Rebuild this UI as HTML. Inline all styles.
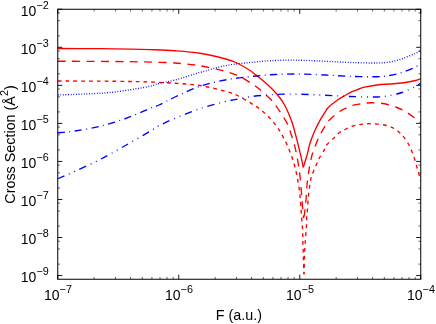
<!DOCTYPE html>
<html><head><meta charset="utf-8"><title>Cross Section vs F</title>
<style>
html,body{margin:0;padding:0;background:#fff;}
svg{display:block;will-change:transform;}
text{font-family:"Liberation Sans",sans-serif;fill:#000;}
</style></head>
<body>
<svg width="436" height="324" viewBox="0 0 436 324">
<rect x="0" y="0" width="436" height="324" fill="#fff"/>
<defs><clipPath id="c"><rect x="57.75" y="9.25" width="363.00" height="270.00"/></clipPath></defs>
<g clip-path="url(#c)">
<path d="M57.75,48.50 C64.79,48.53 87.96,48.60 100.00,48.70 C112.04,48.80 121.67,48.95 130.00,49.10 C138.33,49.25 142.50,49.33 150.00,49.60 C157.50,49.88 166.67,50.14 175.00,50.75 C183.33,51.36 191.67,51.92 200.00,53.25 C208.33,54.58 218.75,57.08 225.00,58.75 C231.25,60.42 233.33,61.29 237.50,63.25 C241.67,65.21 246.42,68.12 250.00,70.50 C253.58,72.88 256.92,75.87 259.00,77.50 C261.08,79.13 261.00,79.05 262.50,80.30 C264.00,81.55 265.92,83.05 268.00,85.00 C270.08,86.95 273.00,89.83 275.00,92.00 C277.00,94.17 278.50,96.00 280.00,98.00 C281.50,100.00 282.75,101.83 284.00,104.00 C285.25,106.17 286.33,108.42 287.50,111.00 C288.67,113.58 290.10,117.17 291.00,119.50 C291.90,121.83 291.97,121.82 292.90,125.00 C293.83,128.18 295.37,133.82 296.60,138.60 C297.83,143.38 299.37,149.77 300.30,153.70 C301.23,157.63 301.70,159.92 302.20,162.20 C302.70,164.48 303.12,166.53 303.30,167.40" fill="none" stroke="#ff0000" stroke-width="1.35"/>
<path d="M303.30,167.40 C303.95,165.25 306.08,158.53 307.20,154.50 C308.32,150.47 308.70,147.23 310.00,143.20 C311.30,139.17 313.25,134.28 315.00,130.30 C316.75,126.32 318.83,122.30 320.50,119.30 C322.17,116.30 323.67,114.30 325.00,112.30 C326.33,110.30 326.47,109.30 328.50,107.30 C330.53,105.30 334.45,102.27 337.20,100.30 C339.95,98.33 342.53,96.95 345.00,95.50 C347.47,94.05 349.67,92.68 352.00,91.60 C354.33,90.52 356.92,89.73 359.00,89.00 C361.08,88.27 361.50,87.87 364.50,87.20 C367.50,86.53 372.83,85.53 377.00,85.00 C381.17,84.47 385.33,84.33 389.50,84.00 C393.67,83.67 397.83,83.54 402.00,83.00 C406.17,82.46 411.38,81.46 414.50,80.75 C417.62,80.04 419.71,79.08 420.75,78.75" fill="none" stroke="#ff0000" stroke-width="1.35"/>
<path d="M57.75,61.25 C64.79,61.27 87.96,61.32 100.00,61.40 C112.04,61.48 121.67,61.58 130.00,61.70 C138.33,61.82 142.50,61.88 150.00,62.10 C157.50,62.32 166.67,62.39 175.00,63.00 C183.33,63.61 191.67,64.38 200.00,65.75 C208.33,67.12 218.75,69.62 225.00,71.25 C231.25,72.88 233.33,73.62 237.50,75.50 C241.67,77.38 246.42,80.29 250.00,82.50 C253.58,84.71 255.42,85.78 259.00,88.75 C262.58,91.72 268.65,97.39 271.50,100.30 C274.35,103.21 274.62,104.20 276.10,106.20 C277.58,108.20 279.08,110.33 280.40,112.30 C281.72,114.27 282.77,115.93 284.00,118.00 C285.23,120.07 286.58,121.92 287.80,124.70 C289.02,127.48 290.03,130.68 291.30,134.70 C292.57,138.72 294.28,144.22 295.40,148.80 C296.52,153.38 297.28,158.07 298.00,162.20 C298.72,166.33 299.13,168.58 299.70,173.60 C300.27,178.62 300.95,186.98 301.40,192.30 C301.85,197.62 302.05,201.22 302.40,205.50 C302.75,209.78 303.32,215.92 303.50,218.00" fill="none" stroke="#ff0000" stroke-width="1.35" stroke-dasharray="8 6.4"/>
<path d="M303.50,218.00 C303.67,217.25 304.07,216.72 304.50,213.50 C304.93,210.28 305.67,203.62 306.10,198.70 C306.53,193.78 306.62,188.80 307.10,184.00 C307.58,179.20 308.28,174.32 309.00,169.90 C309.72,165.48 310.61,160.82 311.40,157.50 C312.19,154.18 312.52,153.33 313.75,150.00 C314.98,146.67 316.88,141.50 318.75,137.50 C320.62,133.50 323.46,128.67 325.00,126.00 C326.54,123.33 326.75,122.97 328.00,121.50 C329.25,120.03 330.58,118.87 332.50,117.20 C334.42,115.53 337.42,112.93 339.50,111.50 C341.58,110.07 342.92,109.58 345.00,108.60 C347.08,107.62 349.67,106.35 352.00,105.60 C354.33,104.85 356.92,104.49 359.00,104.10 C361.08,103.71 362.33,103.47 364.50,103.25 C366.67,103.03 368.67,102.67 372.00,102.75 C375.33,102.83 380.33,102.96 384.50,103.75 C388.67,104.54 393.25,106.04 397.00,107.50 C400.75,108.96 403.88,110.62 407.00,112.50 C410.12,114.38 413.46,117.08 415.75,118.75 C418.04,120.42 419.92,121.88 420.75,122.50" fill="none" stroke="#ff0000" stroke-width="1.35" stroke-dasharray="8 6.4" stroke-dashoffset="13.47"/>
<path d="M57.75,81.00 C64.79,81.03 87.96,81.07 100.00,81.15 C112.04,81.23 121.67,81.36 130.00,81.50 C138.33,81.64 142.50,81.71 150.00,82.00 C157.50,82.29 166.67,82.67 175.00,83.25 C183.33,83.83 191.67,84.17 200.00,85.50 C208.33,86.83 218.75,89.58 225.00,91.25 C231.25,92.92 233.33,93.59 237.50,95.50 C241.67,97.41 246.42,100.57 250.00,102.70 C253.58,104.83 256.52,106.53 259.00,108.30 C261.48,110.07 263.05,111.60 264.90,113.30 C266.75,115.00 268.30,116.55 270.10,118.50 C271.90,120.45 274.05,122.87 275.70,125.00 C277.35,127.13 278.65,129.07 280.00,131.30 C281.35,133.53 282.58,136.07 283.80,138.40 C285.02,140.73 286.23,142.95 287.30,145.30 C288.37,147.65 289.25,150.05 290.20,152.50 C291.15,154.95 292.20,157.52 293.00,160.00 C293.80,162.48 294.37,164.93 295.00,167.40 C295.63,169.87 296.28,172.32 296.80,174.80 C297.32,177.28 297.65,179.60 298.10,182.30 C298.55,185.00 299.15,188.27 299.50,191.00 C299.85,193.73 299.98,196.18 300.20,198.70 C300.42,201.22 300.60,203.52 300.80,206.10 C301.00,208.68 301.20,211.52 301.40,214.20 C301.60,216.88 301.80,219.57 302.00,222.20 C302.20,224.83 302.47,227.37 302.60,230.00 C302.73,232.63 302.73,235.43 302.80,238.00 C302.87,240.57 302.92,242.82 303.00,245.40 C303.08,247.98 303.22,250.70 303.30,253.50 C303.38,256.30 303.38,258.75 303.50,262.20 C303.62,265.65 303.92,272.20 304.00,274.20" fill="none" stroke="#ff0000" stroke-width="1.35" stroke-dasharray="3.8 4.0"/>
<path d="M304.00,274.20 C304.07,271.27 304.27,260.88 304.40,256.60 C304.53,252.32 304.65,251.08 304.80,248.50 C304.95,245.92 305.12,243.67 305.30,241.10 C305.48,238.53 305.70,235.70 305.90,233.10 C306.10,230.50 306.37,228.13 306.50,225.50 C306.63,222.87 306.55,219.92 306.70,217.30 C306.85,214.68 307.18,212.38 307.40,209.80 C307.62,207.22 307.78,204.52 308.00,201.80 C308.22,199.08 308.40,196.20 308.70,193.50 C309.00,190.80 309.40,188.20 309.80,185.60 C310.20,183.00 310.47,180.35 311.10,177.90 C311.73,175.45 312.67,173.27 313.60,170.90 C314.53,168.53 315.78,165.77 316.70,163.70 C317.62,161.63 317.72,160.99 319.10,158.50 C320.48,156.01 323.68,151.08 325.00,148.75 C326.32,146.42 325.33,146.46 327.00,144.50 C328.67,142.54 332.92,139.00 335.00,137.00 C337.08,135.00 337.83,133.75 339.50,132.50 C341.17,131.25 342.92,130.54 345.00,129.50 C347.08,128.46 349.67,127.03 352.00,126.25 C354.33,125.47 356.92,125.17 359.00,124.80 C361.08,124.42 362.33,124.17 364.50,124.00 C366.67,123.83 368.67,123.58 372.00,123.75 C375.33,123.92 380.75,124.17 384.50,125.00 C388.25,125.83 391.58,127.08 394.50,128.75 C397.42,130.42 399.71,132.50 402.00,135.00 C404.29,137.50 406.38,140.42 408.25,143.75 C410.12,147.08 411.79,151.04 413.25,155.00 C414.71,158.96 415.96,163.96 417.00,167.50 C418.04,171.04 418.88,174.00 419.50,176.25 C420.12,178.50 420.54,180.21 420.75,181.00" fill="none" stroke="#ff0000" stroke-width="1.35" stroke-dasharray="3.85 4.05" stroke-dashoffset="1.27"/>
<path d="M57.75,95.00 C62.29,94.83 76.29,94.42 85.00,94.00 C93.71,93.58 101.67,93.33 110.00,92.50 C118.33,91.67 128.33,90.04 135.00,89.00 C141.67,87.96 146.00,87.17 150.00,86.25 C154.00,85.33 154.83,84.54 159.00,83.50 C163.17,82.46 168.17,81.83 175.00,80.00 C181.83,78.17 191.67,74.88 200.00,72.50 C208.33,70.12 216.67,67.42 225.00,65.75 C233.33,64.08 241.67,63.38 250.00,62.50 C258.33,61.62 266.67,60.88 275.00,60.50 C283.33,60.12 291.67,60.12 300.00,60.25 C308.33,60.38 316.67,60.88 325.00,61.25 C333.33,61.62 341.33,62.21 350.00,62.50 C358.67,62.79 370.42,63.08 377.00,63.00 C383.58,62.92 385.33,62.71 389.50,62.00 C393.67,61.29 397.83,60.12 402.00,58.75 C406.17,57.38 411.38,55.12 414.50,53.75 C417.62,52.38 419.71,51.04 420.75,50.50" fill="none" stroke="#0000ff" stroke-width="1.35" stroke-dasharray="0.9 1.7"/>
<path d="M57.75,132.75 C60.62,132.46 67.96,132.08 75.00,131.00 C82.04,129.92 91.67,128.29 100.00,126.25 C108.33,124.21 116.67,121.72 125.00,118.75 C133.33,115.78 144.33,110.69 150.00,108.40 C155.67,106.11 154.83,106.90 159.00,105.00 C163.17,103.10 168.17,100.12 175.00,97.00 C181.83,93.88 191.67,89.08 200.00,86.25 C208.33,83.42 216.67,81.61 225.00,80.00 C233.33,78.39 241.67,77.52 250.00,76.60 C258.33,75.68 266.67,74.93 275.00,74.50 C283.33,74.07 291.67,73.92 300.00,74.00 C308.33,74.08 316.67,74.62 325.00,75.00 C333.33,75.38 341.33,76.01 350.00,76.30 C358.67,76.59 370.42,76.88 377.00,76.75 C383.58,76.62 385.33,76.21 389.50,75.50 C393.67,74.79 397.83,73.83 402.00,72.50 C406.17,71.17 411.38,68.96 414.50,67.50 C417.62,66.04 419.71,64.38 420.75,63.75" fill="none" stroke="#0000ff" stroke-width="1.35" stroke-dasharray="7.3 4.43 0.9 4.43"/>
<path d="M57.75,178.75 C60.62,177.50 67.96,174.46 75.00,171.25 C82.04,168.04 91.67,163.75 100.00,159.50 C108.33,155.25 116.67,150.46 125.00,145.75 C133.33,141.04 144.33,134.58 150.00,131.25 C155.67,127.92 154.83,127.91 159.00,125.75 C163.17,123.59 168.17,121.13 175.00,118.30 C181.83,115.47 191.67,111.55 200.00,108.75 C208.33,105.95 219.17,103.01 225.00,101.50 C230.83,99.99 230.83,100.50 235.00,99.70 C239.17,98.90 243.33,97.57 250.00,96.70 C256.67,95.83 266.67,94.91 275.00,94.50 C283.33,94.09 291.67,94.12 300.00,94.25 C308.33,94.38 316.67,94.88 325.00,95.25 C333.33,95.62 341.33,96.21 350.00,96.50 C358.67,96.79 370.42,97.17 377.00,97.00 C383.58,96.83 385.33,96.25 389.50,95.50 C393.67,94.75 397.83,93.92 402.00,92.50 C406.17,91.08 411.38,88.58 414.50,87.00 C417.62,85.42 419.71,83.67 420.75,83.00" fill="none" stroke="#0000ff" stroke-width="1.35" stroke-dasharray="7.3 4.9 0.9 4.9 0.9 4.9"/>
</g>
<g>
<line x1="57.75" y1="279.25" x2="57.75" y2="274.65" stroke="#000" stroke-width="0.9"/>
<line x1="57.75" y1="9.25" x2="57.75" y2="13.85" stroke="#000" stroke-width="0.9"/>
<line x1="94.17" y1="279.25" x2="94.17" y2="276.95" stroke="#000" stroke-width="0.6"/>
<line x1="94.17" y1="9.25" x2="94.17" y2="11.55" stroke="#000" stroke-width="0.6"/>
<line x1="115.48" y1="279.25" x2="115.48" y2="276.95" stroke="#000" stroke-width="0.6"/>
<line x1="115.48" y1="9.25" x2="115.48" y2="11.55" stroke="#000" stroke-width="0.6"/>
<line x1="130.60" y1="279.25" x2="130.60" y2="276.95" stroke="#000" stroke-width="0.6"/>
<line x1="130.60" y1="9.25" x2="130.60" y2="11.55" stroke="#000" stroke-width="0.6"/>
<line x1="142.33" y1="279.25" x2="142.33" y2="276.95" stroke="#000" stroke-width="0.6"/>
<line x1="142.33" y1="9.25" x2="142.33" y2="11.55" stroke="#000" stroke-width="0.6"/>
<line x1="151.91" y1="279.25" x2="151.91" y2="276.95" stroke="#000" stroke-width="0.6"/>
<line x1="151.91" y1="9.25" x2="151.91" y2="11.55" stroke="#000" stroke-width="0.6"/>
<line x1="160.01" y1="279.25" x2="160.01" y2="276.95" stroke="#000" stroke-width="0.6"/>
<line x1="160.01" y1="9.25" x2="160.01" y2="11.55" stroke="#000" stroke-width="0.6"/>
<line x1="167.02" y1="279.25" x2="167.02" y2="276.95" stroke="#000" stroke-width="0.6"/>
<line x1="167.02" y1="9.25" x2="167.02" y2="11.55" stroke="#000" stroke-width="0.6"/>
<line x1="173.21" y1="279.25" x2="173.21" y2="276.95" stroke="#000" stroke-width="0.6"/>
<line x1="173.21" y1="9.25" x2="173.21" y2="11.55" stroke="#000" stroke-width="0.6"/>
<line x1="178.75" y1="279.25" x2="178.75" y2="274.65" stroke="#000" stroke-width="0.9"/>
<line x1="178.75" y1="9.25" x2="178.75" y2="13.85" stroke="#000" stroke-width="0.9"/>
<line x1="215.17" y1="279.25" x2="215.17" y2="276.95" stroke="#000" stroke-width="0.6"/>
<line x1="215.17" y1="9.25" x2="215.17" y2="11.55" stroke="#000" stroke-width="0.6"/>
<line x1="236.48" y1="279.25" x2="236.48" y2="276.95" stroke="#000" stroke-width="0.6"/>
<line x1="236.48" y1="9.25" x2="236.48" y2="11.55" stroke="#000" stroke-width="0.6"/>
<line x1="251.60" y1="279.25" x2="251.60" y2="276.95" stroke="#000" stroke-width="0.6"/>
<line x1="251.60" y1="9.25" x2="251.60" y2="11.55" stroke="#000" stroke-width="0.6"/>
<line x1="263.33" y1="279.25" x2="263.33" y2="276.95" stroke="#000" stroke-width="0.6"/>
<line x1="263.33" y1="9.25" x2="263.33" y2="11.55" stroke="#000" stroke-width="0.6"/>
<line x1="272.91" y1="279.25" x2="272.91" y2="276.95" stroke="#000" stroke-width="0.6"/>
<line x1="272.91" y1="9.25" x2="272.91" y2="11.55" stroke="#000" stroke-width="0.6"/>
<line x1="281.01" y1="279.25" x2="281.01" y2="276.95" stroke="#000" stroke-width="0.6"/>
<line x1="281.01" y1="9.25" x2="281.01" y2="11.55" stroke="#000" stroke-width="0.6"/>
<line x1="288.02" y1="279.25" x2="288.02" y2="276.95" stroke="#000" stroke-width="0.6"/>
<line x1="288.02" y1="9.25" x2="288.02" y2="11.55" stroke="#000" stroke-width="0.6"/>
<line x1="294.21" y1="279.25" x2="294.21" y2="276.95" stroke="#000" stroke-width="0.6"/>
<line x1="294.21" y1="9.25" x2="294.21" y2="11.55" stroke="#000" stroke-width="0.6"/>
<line x1="299.75" y1="279.25" x2="299.75" y2="274.65" stroke="#000" stroke-width="0.9"/>
<line x1="299.75" y1="9.25" x2="299.75" y2="13.85" stroke="#000" stroke-width="0.9"/>
<line x1="336.17" y1="279.25" x2="336.17" y2="276.95" stroke="#000" stroke-width="0.6"/>
<line x1="336.17" y1="9.25" x2="336.17" y2="11.55" stroke="#000" stroke-width="0.6"/>
<line x1="357.48" y1="279.25" x2="357.48" y2="276.95" stroke="#000" stroke-width="0.6"/>
<line x1="357.48" y1="9.25" x2="357.48" y2="11.55" stroke="#000" stroke-width="0.6"/>
<line x1="372.60" y1="279.25" x2="372.60" y2="276.95" stroke="#000" stroke-width="0.6"/>
<line x1="372.60" y1="9.25" x2="372.60" y2="11.55" stroke="#000" stroke-width="0.6"/>
<line x1="384.33" y1="279.25" x2="384.33" y2="276.95" stroke="#000" stroke-width="0.6"/>
<line x1="384.33" y1="9.25" x2="384.33" y2="11.55" stroke="#000" stroke-width="0.6"/>
<line x1="393.91" y1="279.25" x2="393.91" y2="276.95" stroke="#000" stroke-width="0.6"/>
<line x1="393.91" y1="9.25" x2="393.91" y2="11.55" stroke="#000" stroke-width="0.6"/>
<line x1="402.01" y1="279.25" x2="402.01" y2="276.95" stroke="#000" stroke-width="0.6"/>
<line x1="402.01" y1="9.25" x2="402.01" y2="11.55" stroke="#000" stroke-width="0.6"/>
<line x1="409.02" y1="279.25" x2="409.02" y2="276.95" stroke="#000" stroke-width="0.6"/>
<line x1="409.02" y1="9.25" x2="409.02" y2="11.55" stroke="#000" stroke-width="0.6"/>
<line x1="415.21" y1="279.25" x2="415.21" y2="276.95" stroke="#000" stroke-width="0.6"/>
<line x1="415.21" y1="9.25" x2="415.21" y2="11.55" stroke="#000" stroke-width="0.6"/>
<line x1="420.75" y1="279.25" x2="420.75" y2="274.65" stroke="#000" stroke-width="0.9"/>
<line x1="420.75" y1="9.25" x2="420.75" y2="13.85" stroke="#000" stroke-width="0.9"/>
<line x1="57.75" y1="9.25" x2="62.35" y2="9.25" stroke="#000" stroke-width="0.9"/>
<line x1="420.75" y1="9.25" x2="416.15" y2="9.25" stroke="#000" stroke-width="0.9"/>
<line x1="57.75" y1="35.84" x2="60.05" y2="35.84" stroke="#000" stroke-width="0.6"/>
<line x1="420.75" y1="35.84" x2="418.45" y2="35.84" stroke="#000" stroke-width="0.6"/>
<line x1="57.75" y1="20.70" x2="60.05" y2="20.70" stroke="#000" stroke-width="0.6"/>
<line x1="420.75" y1="20.70" x2="418.45" y2="20.70" stroke="#000" stroke-width="0.6"/>
<line x1="57.75" y1="12.94" x2="60.05" y2="12.94" stroke="#000" stroke-width="0.6"/>
<line x1="420.75" y1="12.94" x2="418.45" y2="12.94" stroke="#000" stroke-width="0.6"/>
<line x1="57.75" y1="47.30" x2="62.35" y2="47.30" stroke="#000" stroke-width="0.9"/>
<line x1="420.75" y1="47.30" x2="416.15" y2="47.30" stroke="#000" stroke-width="0.9"/>
<line x1="57.75" y1="73.89" x2="60.05" y2="73.89" stroke="#000" stroke-width="0.6"/>
<line x1="420.75" y1="73.89" x2="418.45" y2="73.89" stroke="#000" stroke-width="0.6"/>
<line x1="57.75" y1="58.75" x2="60.05" y2="58.75" stroke="#000" stroke-width="0.6"/>
<line x1="420.75" y1="58.75" x2="418.45" y2="58.75" stroke="#000" stroke-width="0.6"/>
<line x1="57.75" y1="50.98" x2="60.05" y2="50.98" stroke="#000" stroke-width="0.6"/>
<line x1="420.75" y1="50.98" x2="418.45" y2="50.98" stroke="#000" stroke-width="0.6"/>
<line x1="57.75" y1="85.34" x2="62.35" y2="85.34" stroke="#000" stroke-width="0.9"/>
<line x1="420.75" y1="85.34" x2="416.15" y2="85.34" stroke="#000" stroke-width="0.9"/>
<line x1="57.75" y1="111.93" x2="60.05" y2="111.93" stroke="#000" stroke-width="0.6"/>
<line x1="420.75" y1="111.93" x2="418.45" y2="111.93" stroke="#000" stroke-width="0.6"/>
<line x1="57.75" y1="96.79" x2="60.05" y2="96.79" stroke="#000" stroke-width="0.6"/>
<line x1="420.75" y1="96.79" x2="418.45" y2="96.79" stroke="#000" stroke-width="0.6"/>
<line x1="57.75" y1="89.03" x2="60.05" y2="89.03" stroke="#000" stroke-width="0.6"/>
<line x1="420.75" y1="89.03" x2="418.45" y2="89.03" stroke="#000" stroke-width="0.6"/>
<line x1="57.75" y1="123.39" x2="62.35" y2="123.39" stroke="#000" stroke-width="0.9"/>
<line x1="420.75" y1="123.39" x2="416.15" y2="123.39" stroke="#000" stroke-width="0.9"/>
<line x1="57.75" y1="149.98" x2="60.05" y2="149.98" stroke="#000" stroke-width="0.6"/>
<line x1="420.75" y1="149.98" x2="418.45" y2="149.98" stroke="#000" stroke-width="0.6"/>
<line x1="57.75" y1="134.84" x2="60.05" y2="134.84" stroke="#000" stroke-width="0.6"/>
<line x1="420.75" y1="134.84" x2="418.45" y2="134.84" stroke="#000" stroke-width="0.6"/>
<line x1="57.75" y1="127.07" x2="60.05" y2="127.07" stroke="#000" stroke-width="0.6"/>
<line x1="420.75" y1="127.07" x2="418.45" y2="127.07" stroke="#000" stroke-width="0.6"/>
<line x1="57.75" y1="161.43" x2="62.35" y2="161.43" stroke="#000" stroke-width="0.9"/>
<line x1="420.75" y1="161.43" x2="416.15" y2="161.43" stroke="#000" stroke-width="0.9"/>
<line x1="57.75" y1="188.02" x2="60.05" y2="188.02" stroke="#000" stroke-width="0.6"/>
<line x1="420.75" y1="188.02" x2="418.45" y2="188.02" stroke="#000" stroke-width="0.6"/>
<line x1="57.75" y1="172.88" x2="60.05" y2="172.88" stroke="#000" stroke-width="0.6"/>
<line x1="420.75" y1="172.88" x2="418.45" y2="172.88" stroke="#000" stroke-width="0.6"/>
<line x1="57.75" y1="165.12" x2="60.05" y2="165.12" stroke="#000" stroke-width="0.6"/>
<line x1="420.75" y1="165.12" x2="418.45" y2="165.12" stroke="#000" stroke-width="0.6"/>
<line x1="57.75" y1="199.48" x2="62.35" y2="199.48" stroke="#000" stroke-width="0.9"/>
<line x1="420.75" y1="199.48" x2="416.15" y2="199.48" stroke="#000" stroke-width="0.9"/>
<line x1="57.75" y1="226.07" x2="60.05" y2="226.07" stroke="#000" stroke-width="0.6"/>
<line x1="420.75" y1="226.07" x2="418.45" y2="226.07" stroke="#000" stroke-width="0.6"/>
<line x1="57.75" y1="210.93" x2="60.05" y2="210.93" stroke="#000" stroke-width="0.6"/>
<line x1="420.75" y1="210.93" x2="418.45" y2="210.93" stroke="#000" stroke-width="0.6"/>
<line x1="57.75" y1="203.16" x2="60.05" y2="203.16" stroke="#000" stroke-width="0.6"/>
<line x1="420.75" y1="203.16" x2="418.45" y2="203.16" stroke="#000" stroke-width="0.6"/>
<line x1="57.75" y1="237.52" x2="62.35" y2="237.52" stroke="#000" stroke-width="0.9"/>
<line x1="420.75" y1="237.52" x2="416.15" y2="237.52" stroke="#000" stroke-width="0.9"/>
<line x1="57.75" y1="264.11" x2="60.05" y2="264.11" stroke="#000" stroke-width="0.6"/>
<line x1="420.75" y1="264.11" x2="418.45" y2="264.11" stroke="#000" stroke-width="0.6"/>
<line x1="57.75" y1="248.97" x2="60.05" y2="248.97" stroke="#000" stroke-width="0.6"/>
<line x1="420.75" y1="248.97" x2="418.45" y2="248.97" stroke="#000" stroke-width="0.6"/>
<line x1="57.75" y1="241.21" x2="60.05" y2="241.21" stroke="#000" stroke-width="0.6"/>
<line x1="420.75" y1="241.21" x2="418.45" y2="241.21" stroke="#000" stroke-width="0.6"/>
<line x1="57.75" y1="275.56" x2="62.35" y2="275.56" stroke="#000" stroke-width="0.9"/>
<line x1="420.75" y1="275.56" x2="416.15" y2="275.56" stroke="#000" stroke-width="0.9"/>
</g>
<rect x="57.75" y="9.25" width="363.00" height="270.00" fill="none" stroke="#000" stroke-width="1"/>
<g>
<text x="48.7" y="15.85" text-anchor="end" font-size="14">10<tspan font-size="10.8" dy="-7.2">−2</tspan></text>
<text x="48.7" y="53.90" text-anchor="end" font-size="14">10<tspan font-size="10.8" dy="-7.2">−3</tspan></text>
<text x="48.7" y="91.94" text-anchor="end" font-size="14">10<tspan font-size="10.8" dy="-7.2">−4</tspan></text>
<text x="48.7" y="129.99" text-anchor="end" font-size="14">10<tspan font-size="10.8" dy="-7.2">−5</tspan></text>
<text x="48.7" y="168.03" text-anchor="end" font-size="14">10<tspan font-size="10.8" dy="-7.2">−6</tspan></text>
<text x="48.7" y="206.08" text-anchor="end" font-size="14">10<tspan font-size="10.8" dy="-7.2">−7</tspan></text>
<text x="48.7" y="244.12" text-anchor="end" font-size="14">10<tspan font-size="10.8" dy="-7.2">−8</tspan></text>
<text x="48.7" y="282.17" text-anchor="end" font-size="14">10<tspan font-size="10.8" dy="-7.2">−9</tspan></text>
<text x="57.95" y="300.1" text-anchor="middle" font-size="14">10<tspan font-size="10.8" dy="-7.2">−7</tspan></text>
<text x="178.95" y="300.1" text-anchor="middle" font-size="14">10<tspan font-size="10.8" dy="-7.2">−6</tspan></text>
<text x="299.95" y="300.1" text-anchor="middle" font-size="14">10<tspan font-size="10.8" dy="-7.2">−5</tspan></text>
<text x="420.95" y="300.1" text-anchor="middle" font-size="14">10<tspan font-size="10.8" dy="-7.2">−4</tspan></text>
<text x="238.9" y="320.3" text-anchor="middle" font-size="14.3">F (a.u.)</text>
<text transform="translate(15.2,144.5) rotate(-90)" text-anchor="middle" font-size="14.35">Cross Section (Å<tspan font-size="10.8" dy="-6.9">2</tspan><tspan dy="6.9">)</tspan></text>
</g>
</svg>
</body></html>
